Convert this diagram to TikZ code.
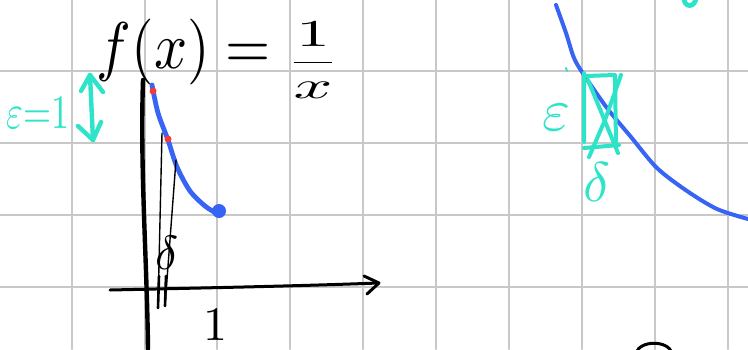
\documentclass[tikz,border=0pt]{standalone}
\usetikzlibrary{arrows}
\definecolor{penblue}{RGB}{55,100,245}
\definecolor{penteal}{RGB}{45,228,200}
\definecolor{penred}{RGB}{240,60,60}
\definecolor{gridgray}{RGB}{200,200,200}

\begin{document}
\begin{tikzpicture}[x=0.5pt, y=-0.5pt, line cap=round, line join=round,
  gridline/.style={gridgray, line width=1pt},
  blackpen/.style={black, line width=1.5pt},
  bluepen/.style={penblue, line width=2.4pt},
  tealpen/.style={penteal, line width=2pt}]

\useasboundingbox (0,0) rectangle (748,349);
\fill[white] (0,0) rectangle (748,349);

% grid paper
\draw[gridline] (72,0) -- (72,349) (145,0) -- (145,349) (217,0) -- (217,349)
  (290,0) -- (290,349) (363,0) -- (363,349) (436,0) -- (436,349)
  (509,0) -- (509,349) (582,0) -- (582,349) (655,0) -- (655,349)
  (728,0) -- (728,349);
\draw[gridline] (0,71) -- (748,71) (0,143) -- (748,143) (0,215) -- (748,215)
  (0,287) -- (748,287);

% left sketch: axes
\draw[blackpen, line width=2.2pt] (143,80) .. controls (140,170) and (147,260) .. (148,349);
\draw[blackpen] (110,290) .. controls (200,288) and (300,286) .. (378,283);
\draw[blackpen] (364,276) -- (379,283) -- (367,294);
\node[inner sep=1pt] (fx) at (184,52) {\scalebox{2.9}[3.3]{$f(x)=$}};
\node[inner sep=1pt] (frac) at (313,60) {\scalebox{3.4}[1.9]{$\displaystyle\frac{1}{x}$}};
\node (one) at (215,325) {\scalebox{2.4}{$1$}};

% left sketch: the graph
\draw[bluepen] plot[smooth] coordinates {(152,85) (158,113) (168,140) (177,167)
  (190,191) (205,206) (216,213)};
\fill[penblue] (219,211) circle (7);
\fill[penred] (153,91) circle (3.5);
\fill[penred] (168,139) circle (3.5);

% delta strip
\draw[black, line width=0.7pt] (162,133) -- (158,308);
\draw[black, line width=0.7pt] (176,160) -- (165,306);
\draw[black, line width=1.3pt] (159,276) -- (158,308) (166,276) -- (165,306);
\node (dl) at (167,253) {\scalebox{2.4}{$\delta$}};

% epsilon arrow
\node[penteal] (el) at (38,113) {\scalebox{1.8}[2.4]{$\varepsilon{=}1$}};
\coordinate (et) at (90,75);
\coordinate (eb) at (93,140);
\draw[tealpen, line width=2.2pt] (et) -- (eb);
\draw[tealpen, line width=2.2pt] (81,91) -- (et) -- (103,92);
\draw[tealpen, line width=2.2pt] (78,126) -- (eb) -- (101,122);

% right sketch: the graph
\draw[bluepen, line width=2pt] plot[smooth] coordinates {(556,5) (566,33) (574,58)
  (584,75) (607,108) (631,137) (657,168) (687,191) (717,209) (748,219)};

% epsilon-delta box
\draw[tealpen] (584,73) -- (584,142) (586,76) -- (615,75) -- (616,146)
  (584,148) -- (619,145);
\draw[tealpen] (621,75) -- (605,120) -- (589,157);
\draw[tealpen] (588,80) -- (618,153);
\draw[tealpen, line width=1pt] (566,68) -- (567,71);
\node[penteal] (er) at (556,118) {\scalebox{3}{$\varepsilon$}};
\node[penteal] (dr) at (597,182) {\scalebox{2.8}{$\delta$}};
\draw[tealpen, line width=2.4pt] (684,-2) .. controls (684,8) and (695,8) .. (696,-2);

% cut-off circle at the bottom
\draw[blackpen] (636,353) .. controls (640,340) and (668,340) .. (672,353);
\end{tikzpicture}
\end{document}
